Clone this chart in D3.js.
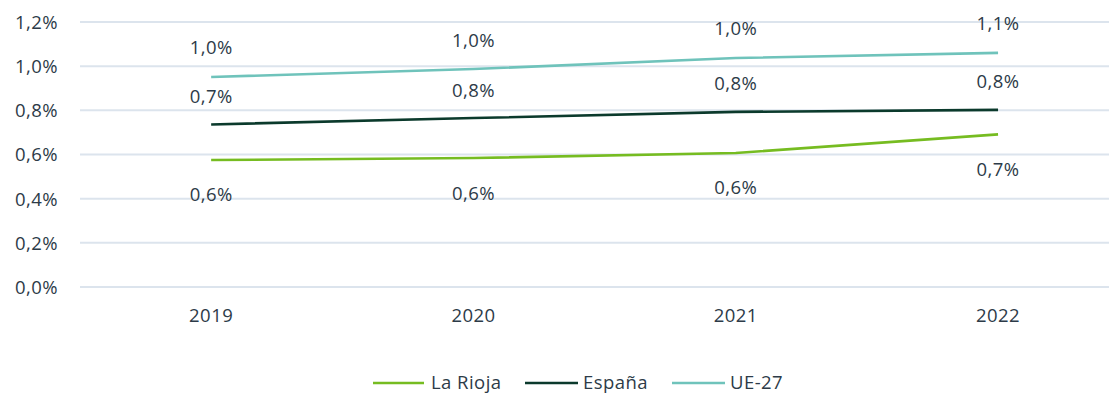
<!DOCTYPE html>
<html>
<head>
<meta charset="utf-8">
<script src="https://cdn.jsdelivr.net/npm/d3@7"></script>
<style>
  html, body { margin: 0; padding: 0; background: #fff; }
  svg { display: block; }
  text { font-family: "Open Sans", "Noto Sans", sans-serif; fill: #2d3b48; letter-spacing: 0.45px; }
</style>
</head>
<body>
<svg id="chart" width="1109" height="393"></svg>
<script>
// Data
const years = ["2019", "2020", "2021", "2022"];
const laRioja = [0.575, 0.584, 0.607, 0.691];
const espana = [0.736, 0.765, 0.793, 0.802];
const ue27 = [0.951, 0.987, 1.037, 1.060];
const yTicks = [0, 0.2, 0.4, 0.6, 0.8, 1.0, 1.2];

const series = [
  { name: "La Rioja", values: laRioja, color: "#76bc21", dy: 35 },
  { name: "España", values: espana, color: "#0b3a2c", dy: -28 },
  { name: "UE-27", values: ue27, color: "#6fc3bb", dy: -29 }
];

const W = 1109;
const left = 80, plotTop = 22, plotBottom = 287;
const fontSize = 18.5;
const svg = d3.select("#chart");

const x = d3.scaleBand().domain(years).range([left, left + 4 * 262.3]);
const cx = d => x(d) + x.bandwidth() / 2;
const y = d3.scaleLinear().domain([0, 1.2]).range([plotBottom, plotTop]);

const fmt = v => d3.format(".1f")(v).replace(".", ",") + "%";

// Gridlines
svg.append("g")
  .selectAll("line")
  .data(yTicks)
  .join("line")
  .attr("x1", left).attr("x2", W)
  .attr("y1", d => y(d)).attr("y2", d => y(d))
  .attr("stroke", "#dce4ed")
  .attr("stroke-width", 2);

// Y axis labels
const yAxis = d3.axisLeft(y).tickValues(yTicks).tickFormat(fmt).tickSize(0).tickPadding(0);
const gy = svg.append("g").attr("transform", "translate(58,0)").call(yAxis);
gy.select(".domain").remove();
gy.selectAll("text").attr("font-size", fontSize).attr("font-family", null).attr("fill", null).attr("dy", "0.35em");

// X axis labels
const xAxis = d3.axisBottom(x).tickSize(0).tickPadding(0);
const gx = svg.append("g").attr("transform", "translate(0,309)").call(xAxis);
gx.select(".domain").remove();
gx.selectAll("text").attr("font-size", fontSize).attr("font-family", null).attr("fill", null).attr("dy", "0.35em").attr("y", 7);

// Lines
const line = d3.line().x((d, i) => cx(years[i])).y(d => y(d));
svg.append("g")
  .selectAll("path")
  .data(series)
  .join("path")
  .attr("d", s => line(s.values))
  .attr("fill", "none")
  .attr("stroke", s => s.color)
  .attr("stroke-width", 2.6);

// Value labels
series.forEach(s => {
  svg.append("g")
    .selectAll("text")
    .data(s.values)
    .join("text")
    .attr("x", (d, i) => cx(years[i]))
    .attr("y", d => y(d) + s.dy)
    .attr("dy", "0.35em")
    .attr("text-anchor", "middle")
    .attr("font-size", fontSize)
    .text(d => fmt(d));
});

// Legend
const legendPos = [
  { x1: 373, x2: 424, tx: 431 },
  { x1: 525, x2: 578, tx: 583 },
  { x1: 672, x2: 725, tx: 730 }
];
const legend = svg.append("g");
series.forEach((s, i) => {
  const p = legendPos[i];
  legend.append("line")
    .attr("x1", p.x1).attr("x2", p.x2)
    .attr("y1", 383).attr("y2", 383)
    .attr("stroke", s.color).attr("stroke-width", 2.6);
  legend.append("text")
    .attr("x", p.tx).attr("y", 383)
    .attr("dy", "0.35em")
    .attr("font-size", fontSize)
    .text(s.name);
});
</script>
</body>
</html>
